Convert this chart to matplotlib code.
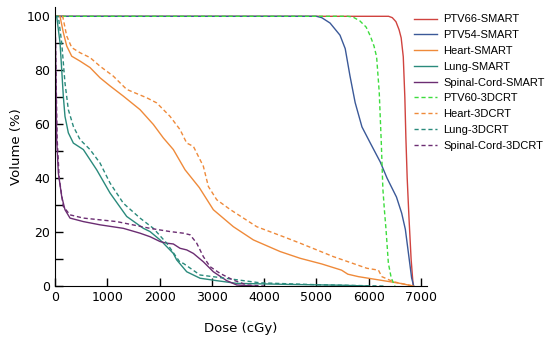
import numpy as np
import matplotlib.pyplot as plt

# DVH curves (dose in cGy, volume in %)
ptv66_smart_x = [0, 6380, 6450, 6520, 6580, 6620, 6660, 6690, 6710, 6735, 6770, 6810, 6850]
ptv66_smart_y = [100, 100, 99.5, 98, 95, 92, 85, 70, 55, 40, 25, 10, 0]

ptv54_smart_x = [0, 5000, 5100, 5260, 5450, 5550, 5640, 5740, 5870, 6030, 6220, 6350, 6530, 6630, 6700, 6760, 6820, 6860]
ptv54_smart_y = [100, 100, 99.5, 97.5, 93, 88, 78, 68, 59, 53, 46, 40, 33, 27, 21, 12, 3, 0]

heart_smart_x = [0, 96, 159, 224, 320, 478, 670, 861, 1052, 1307, 1626, 1881, 2072, 2263, 2487, 2760,
                 3028, 3411, 3794, 4304, 4687, 5100, 5480, 5600, 5800, 6217, 6600, 6855]
heart_smart_y = [100, 100, 94, 89, 85.2, 83.4, 81, 77.2, 74.2, 70.4, 65.4, 59.9, 54.9, 50.6, 43.1, 36.5,
                 28.3, 22, 17.1, 12.8, 10.3, 8.2, 5.9, 4.4, 3.5, 2.2, 1, 0]

lung_smart_x = [0, 32, 96, 128, 159, 191, 255, 351, 542, 797, 1052, 1371, 1690, 1817, 2009, 2072, 2263,
                2327, 2519, 2774, 3093, 3475, 4500, 5500, 6000]
lung_smart_y = [100, 100, 90.2, 80.3, 70.4, 62.9, 56.8, 53, 50.6, 43.1, 34.5, 25.8, 21.4, 20.2, 17.1, 15.9, 12.1,
                9.7, 5.3, 2.9, 2, 1, 0.6, 0.3, 0]

cord_smart_x = [0, 10, 32, 64, 128, 191, 287, 542, 861, 1307, 1626, 1817, 2009, 2136, 2263, 2391, 2519,
                2646, 2837, 3028, 3284, 3475, 3800]
cord_smart_y = [100, 90, 54.3, 41.9, 33.2, 28.3, 25.2, 23.9, 22.7, 21.4, 19.6, 18.3, 16.5, 15.9, 15.6, 14, 13.4,
                12.1, 9, 5.3, 2, 0.4, 0]

ptv60_3dcrt_x = [0, 5600, 5700, 5830, 5950, 6030, 6100, 6150, 6200, 6240, 6270, 6300, 6330, 6375, 6430, 6500]
ptv60_3dcrt_y = [100, 100, 99.7, 98.3, 96, 92.7, 89, 85, 72, 53, 36, 28, 21, 8.5, 3, 0]

heart_3dcrt_x = [0, 147, 224, 320, 478, 670, 861, 1116, 1371, 1754, 1945, 2200, 2391, 2519, 2646, 2837,
                 2933, 3093, 3348, 3858, 4367, 4687, 5325, 5963, 6185, 6249, 6472, 6850]
heart_3dcrt_y = [100, 100, 92.7, 88.4, 86.5, 84.7, 81.5, 77.8, 72.9, 69.8, 67.9, 62.9, 58, 53, 51.8, 44.4,
                 36.9, 32, 28.4, 22, 18.3, 15.9, 10.9, 6.6, 5.9, 3.5, 1.6, 0]

lung_3dcrt_x = [0, 64, 128, 191, 255, 351, 478, 670, 861, 1052, 1307, 1626, 1881, 2136, 2391, 2455,
                2774, 3411, 3922, 5000, 6300]
lung_3dcrt_y = [100, 100, 90.2, 75.3, 65.4, 59.2, 54.3, 50.6, 45.6, 38.2, 30.7, 25.2, 21.4, 15.9, 8.8, 8.4,
                4.1, 2.5, 1.2, 0.5, 0]

cord_3dcrt_x = [0, 10, 40, 80, 159, 287, 542, 1180, 1817, 2200, 2455, 2583, 2710, 2837, 2965, 3156,
                3411, 3667, 4000]
cord_3dcrt_y = [100, 90, 55, 40, 29.5, 26.4, 25.2, 23.9, 21.4, 20.2, 19.6, 19, 15.9, 10.9, 7.2, 4.7,
                2.2, 0.4, 0]

fig = plt.figure(figsize=(5.5, 3.43), dpi=100)
ax = fig.add_axes([0.1, 0.166, 0.676, 0.814])

ax.plot(ptv66_smart_x, ptv66_smart_y, color='#d0433f', lw=1, label='PTV66-SMART')
ax.plot(ptv54_smart_x, ptv54_smart_y, color='#3b5998', lw=1, label='PTV54-SMART')
ax.plot(heart_smart_x, heart_smart_y, color='#ef8a3a', lw=1, label='Heart-SMART')
ax.plot(lung_smart_x, lung_smart_y, color='#2a8a7c', lw=1, label='Lung-SMART')
ax.plot(cord_smart_x, cord_smart_y, color='#6b2d72', lw=1, label='Spinal-Cord-SMART')
ax.plot(ptv60_3dcrt_x, ptv60_3dcrt_y, color='#3ddc3d', lw=1, ls=(0, (3, 2)), label='PTV60-3DCRT')
ax.plot(heart_3dcrt_x, heart_3dcrt_y, color='#ef8a3a', lw=1, ls=(0, (3, 2)), label='Heart-3DCRT')
ax.plot(lung_3dcrt_x, lung_3dcrt_y, color='#2a8a7c', lw=1, ls=(0, (3, 2)), label='Lung-3DCRT')
ax.plot(cord_3dcrt_x, cord_3dcrt_y, color='#6b2d72', lw=1, ls=(0, (3, 2)), label='Spinal-Cord-3DCRT')

ax.set_xlim(0, 7110)
ax.set_ylim(0, 103.5)
ax.set_xticks(np.arange(0, 7001, 1000))
ax.set_yticks(np.arange(0, 101, 20))
ax.set_yticks(np.arange(10, 100, 20), minor=True)
ax.tick_params(axis='both', which='both', direction='in', length=6, width=1, labelsize=9)
ax.spines['top'].set_visible(False)
ax.spines['right'].set_visible(False)
ax.set_xlabel('Dose (cGy)', fontsize=9.5, labelpad=13)
ax.set_ylabel('Volume (%)', fontsize=9.5, labelpad=2)

ax.legend(loc='upper left', bbox_to_anchor=(0.752, 0.958), bbox_transform=fig.transFigure,
          frameon=False, prop={'family': 'Liberation Sans', 'size': 8},
          handlelength=2.1, handletextpad=0.55, labelspacing=0.52, borderaxespad=0, borderpad=0)

fig.savefig('out.png', dpi=100)
